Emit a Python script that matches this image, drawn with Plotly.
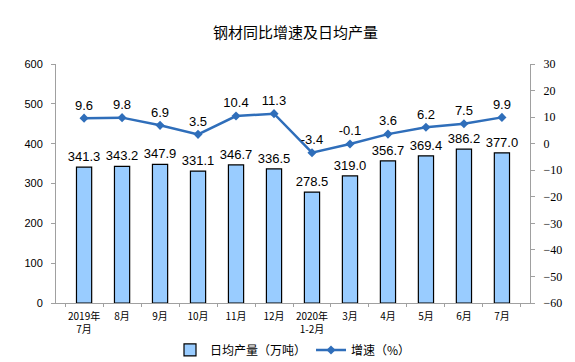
import plotly.graph_objects as go

categories = ["2019年<br>7月", "8月", "9月", "10月", "11月", "12月", "2020年<br>1-2月",
              "3月", "4月", "5月", "6月", "7月"]
output = [341.3, 343.2, 347.9, 331.1, 346.7, 336.5, 278.5, 319.0, 356.7, 369.4, 386.2, 377.0]
growth = [9.6, 9.8, 6.9, 3.5, 10.4, 11.3, -3.4, -0.1, 3.6, 6.2, 7.5, 9.9]
left_ticks = [0, 100, 200, 300, 400, 500, 600]
right_ticks = [-60, -50, -40, -30, -20, -10, 0, 10, 20, 30]

cjk = "Noto Sans CJK SC"
fig = go.Figure()
fig.add_trace(go.Bar(
    x=categories, y=output, name="日均产量（万吨）",
    marker=dict(color="#99CCFF", line=dict(color="#000000", width=1.2)),
    width=0.4,
    text=[f"{v:.1f}" for v in output], textposition="outside",
    constraintext="none",
    textfont=dict(family="Arial, Liberation Sans", size=13, color="#000000"),
    cliponaxis=False,
))
fig.add_trace(go.Scatter(
    x=categories, y=growth, name="增速（%）", yaxis="y2",
    mode="lines+markers+text",
    line=dict(color="#2F6EBA", width=2.5),
    marker=dict(symbol="diamond", size=7, color="#2F6EBA"),
    text=[f"{v:.1f}" for v in growth], textposition="top center",
    textfont=dict(family="Arial, Liberation Sans", size=13, color="#000000"),
    cliponaxis=False,
))
fig.update_layout(
    width=575, height=354,
    margin=dict(l=48, r=53, t=56, b=59, autoexpand=False),
    paper_bgcolor="white", plot_bgcolor="white",
    title=dict(text="钢材同比增速及日均产量", x=0.5, xanchor="center", y=0.93, yanchor="middle",
               font=dict(family=cjk, size=15, color="#000000")),
    showlegend=True,
    legend=dict(orientation="h", x=0.5, xanchor="center", y=0.075, yanchor="top",
                yref="container",
                font=dict(family=cjk, size=12, color="#000000"),
                traceorder="normal", tracegroupgap=0),
    xaxis=dict(
        showline=True, linecolor="#A0A0A0", linewidth=1,
        ticks="outside", tickson="boundaries", ticklen=3, tickcolor="#A0A0A0",
        tickangle=0, automargin=False, ticklabelstandoff=4,
        tickfont=dict(family=cjk, size=10, color="#000000"),
        showgrid=False,
    ),
    yaxis=dict(
        range=[0, 600], tickvals=left_ticks, showline=True, linecolor="#A0A0A0",
        ticks="outside", ticklen=4, tickcolor="#A0A0A0", showgrid=False, zeroline=False,
        ticklabelstandoff=6, automargin=False,
        tickfont=dict(family="Arial, Liberation Sans", size=11, color="#000000"),
    ),
    yaxis2=dict(
        range=[-60, 30], tickvals=right_ticks, overlaying="y", side="right",
        showline=True, linecolor="#A0A0A0", ticks="outside", ticklen=4, tickcolor="#A0A0A0",
        showgrid=False, zeroline=False, ticklabelstandoff=6, automargin=False,
        tickfont=dict(family="Liberation Serif, Times New Roman", size=12, color="#000000"),
    ),
)
fig.write_html("out.html")
